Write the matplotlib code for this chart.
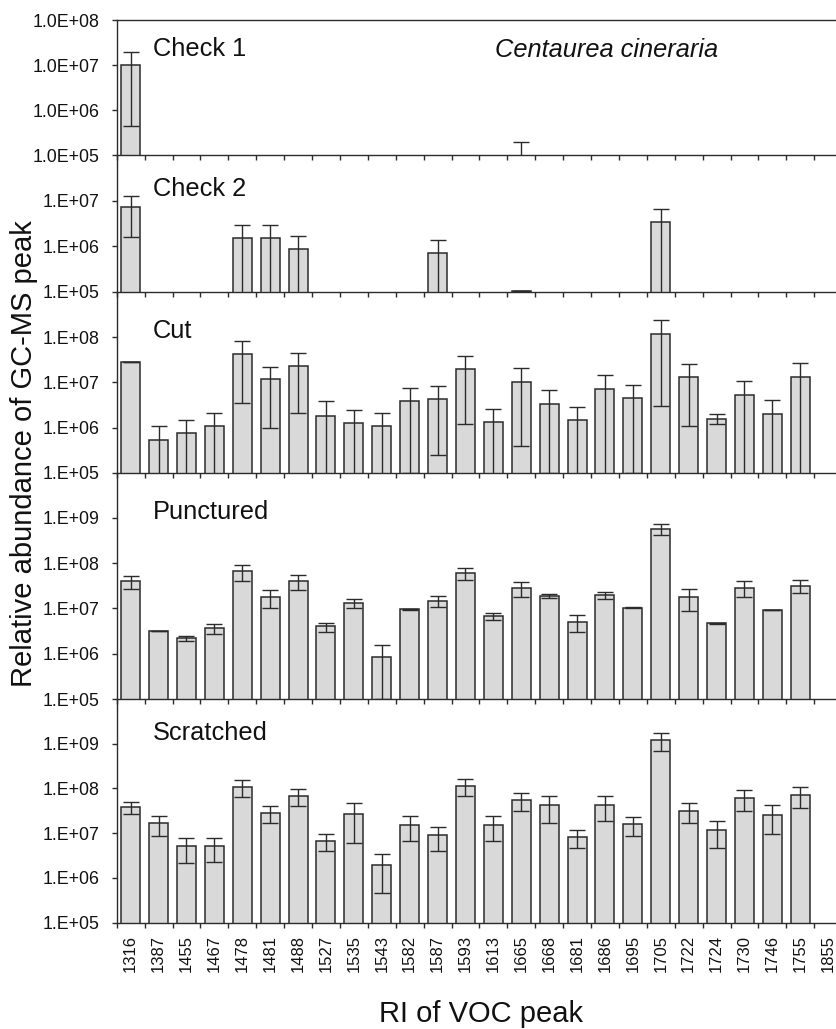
import numpy as np
import matplotlib
matplotlib.use("Agg")
import matplotlib.pyplot as plt
from matplotlib.ticker import FixedLocator, NullLocator

plt.rcParams['font.family'] = ['Liberation Sans', 'DejaVu Sans']

nan = np.nan

# Retention indices of the VOC peaks
categories = ['1316', '1387', '1455', '1467', '1478', '1481', '1488', '1527',
              '1535', '1543', '1582', '1587', '1593', '1613', '1665', '1668',
              '1681', '1686', '1695', '1705', '1722', '1724', '1730', '1746',
              '1755', '1855']

# Mean relative abundance and standard error per treatment (nan = not detected)
check1_mean = [1.0e7, nan, nan, nan, nan, nan, nan, nan, nan, nan, nan, nan, nan,
               nan, 6.0e4, nan, nan, nan, nan, nan, nan, nan, nan, nan, nan, nan]
check1_se = [9.55e6, nan, nan, nan, nan, nan, nan, nan, nan, nan, nan, nan, nan,
             nan, 1.37e5, nan, nan, nan, nan, nan, nan, nan, nan, nan, nan, nan]

check2_mean = [7.3e6, nan, nan, nan, 1.5e6, 1.5e6, 8.6e5, nan, nan, nan, nan, 7.1e5,
               nan, nan, 1.03e5, nan, nan, nan, nan, 3.4e6, nan, nan, nan, nan, nan, nan]
check2_se = [5.7e6, nan, nan, nan, 1.5e6, 1.5e6, 8.2e5, nan, nan, nan, nan, 6.9e5,
             nan, nan, 0.0, nan, nan, nan, nan, 3.35e6, nan, nan, nan, nan, nan, nan]

cut_mean = [2.8e7, 5.4e5, 7.5e5, 1.1e6, 4.35e7, 1.16e7, 2.31e7, 1.83e6, 1.25e6,
            1.08e6, 3.8e6, 4.35e6, 1.95e7, 1.31e6, 1.04e7, 3.4e6, 1.48e6, 7.2e6,
            4.4e6, 1.2e8, 1.31e7, 1.58e6, 5.2e6, 2.0e6, 1.33e7, nan]
cut_se = [4.0e5, 5.3e5, 7.3e5, 1.05e6, 4.0e7, 1.06e7, 2.1e7, 1.95e6, 1.2e6,
          1.07e6, 3.7e6, 4.1e6, 1.83e7, 1.3e6, 1.0e7, 3.3e6, 1.4e6, 7.2e6,
          4.3e6, 1.17e8, 1.2e7, 4.0e5, 5.5e6, 2.0e6, 1.35e7, nan]

punctured_mean = [4.0e7, 3.2e6, 2.2e6, 3.7e6, 6.6e7, 1.75e7, 4.0e7, 4.0e6, 1.33e7,
                  8.5e5, 9.5e6, 1.5e7, 6.1e7, 6.9e6, 2.8e7, 1.87e7, 5.0e6, 1.94e7,
                  1.05e7, 5.7e8, 1.8e7, 4.7e6, 2.9e7, 9.3e6, 3.2e7, nan]
punctured_se = [1.3e7, 5.0e4, 3.0e5, 9.0e5, 2.5e7, 7.5e6, 1.4e7, 9.0e5, 3.0e6,
                7.5e5, 2.0e5, 4.0e6, 1.9e7, 1.25e6, 1.0e7, 2.0e6, 2.0e6, 3.5e6,
                4.0e5, 1.6e8, 9.0e6, 1.5e5, 1.1e7, 1.0e5, 1.0e7, nan]

scratched_mean = [3.87e7, 1.67e7, 5.1e6, 5.1e6, 1.09e8, 2.88e7, 6.9e7, 6.85e6, 2.7e7,
                  1.95e6, 1.52e7, 9.0e6, 1.14e8, 1.53e7, 5.46e7, 4.3e7, 8.3e6, 4.3e7,
                  1.62e7, 1.2e9, 3.2e7, 1.16e7, 6.2e7, 2.57e7, 7.2e7, nan]
scratched_se = [1.2e7, 8.0e6, 2.9e6, 2.8e6, 4.5e7, 1.15e7, 2.8e7, 2.8e6, 2.1e7,
                1.5e6, 8.5e6, 5.0e6, 4.7e7, 8.7e6, 2.3e7, 2.6e7, 3.6e6, 2.45e7,
                7.4e6, 5.1e8, 1.5e7, 7.0e6, 3.0e7, 1.6e7, 3.6e7, nan]

panel_names = ['Check 1', 'Check 2', 'Cut', 'Punctured', 'Scratched']
panel_means = [check1_mean, check2_mean, cut_mean, punctured_mean, scratched_mean]
panel_ses = [check1_se, check2_se, cut_se, punctured_se, scratched_se]

W, H = 836, 1029
fig = plt.figure(figsize=(W / 100, H / 100), dpi=100)
fig.patch.set_facecolor('white')

# panel extents in pixels (top, bottom) and log10 y-limits
panel_px = [(20, 155.3), (155.3, 292), (292, 472.7), (472.7, 699), (699, 922.7)]
panel_ylim = [(5, 8), (5, 8), (5, 9), (5, 10), (5, 10)]
panel_ticks = [[5, 6, 7, 8], [5, 6, 7], [5, 6, 7, 8], [5, 6, 7, 8, 9], [5, 6, 7, 8, 9]]
panel_fmt = ['1.0E+{:02d}', '1.E+{:02d}', '1.E+{:02d}', '1.E+{:02d}', '1.E+{:02d}']
label_baseline = [55.7, 196, 338.3, 519.3, 740]

left_px = 116.7
cat_w = 27.9
n = len(categories)
x = np.arange(n)

ink = '#2b2b2b'
bar_fill = '#d9d9d9'

for i in range(5):
    top, bot = panel_px[i]
    ax = fig.add_axes([left_px / W, 1 - bot / H, n * cat_w / W, (bot - top) / H])
    ax.set_facecolor('none')
    means = np.array(panel_means[i], dtype=float)
    ses = np.array(panel_ses[i], dtype=float)

    ax.set_yscale('log', nonpositive='clip')
    ax.bar(x, means, width=0.68, bottom=0, color=bar_fill, edgecolor=ink,
           linewidth=1.1, zorder=2)
    ax.errorbar(x, means, yerr=ses, fmt='none', ecolor=ink, elinewidth=1.0,
                capsize=5.5, capthick=1.0, zorder=3)

    lo, hi = panel_ylim[i]
    ax.set_ylim(10.0 ** lo, 10.0 ** hi)
    ax.set_xlim(-0.5, n - 0.5)

    ax.yaxis.set_major_locator(FixedLocator([10.0 ** t for t in panel_ticks[i]]))
    ax.yaxis.set_minor_locator(NullLocator())
    ax.set_yticklabels([panel_fmt[i].format(t) for t in panel_ticks[i]])
    ax.tick_params(axis='y', which='major', direction='out', length=3.6, width=1.0,
                   color=ink, pad=9, labelsize=12.8, labelcolor='#111111')

    ax.set_xticks(x)
    ax.set_xticks(np.arange(n + 1) - 0.5, minor=True)
    ax.tick_params(axis='x', which='major', length=0, pad=8.9)
    ax.tick_params(axis='x', which='minor', direction='out', length=3.6, width=1.0,
                   color=ink)
    if i == 4:
        ax.set_xticklabels(categories, rotation=90, fontsize=12, color='#111111')
    else:
        ax.set_xticklabels([])

    for side in ('left', 'bottom', 'top'):
        ax.spines[side].set_color(ink)
        ax.spines[side].set_linewidth(1.0)
    ax.spines['right'].set_visible(False)
    if i != 0:
        ax.spines['top'].set_visible(False)

    fig.text(153 / W, 1 - label_baseline[i] / H, panel_names[i], fontsize=18.3,
             va='baseline', ha='left', color='#111111')

fig.text(495 / W, 1 - 57.3 / H, 'Centaurea cineraria', fontsize=18.3,
         style='italic', va='baseline', ha='left', color='#111111')

fig.text(24 / W, 1 - 454 / H, 'Relative abundance of GC-MS peak', fontsize=21,
         rotation=90, ha='center', va='center', color='#111111')
fig.text(481 / W, 1 - 1021.5 / H, 'RI of VOC peak', fontsize=21,
         ha='center', va='baseline', color='#111111')

fig.savefig('out.png', dpi=100, facecolor='white')
